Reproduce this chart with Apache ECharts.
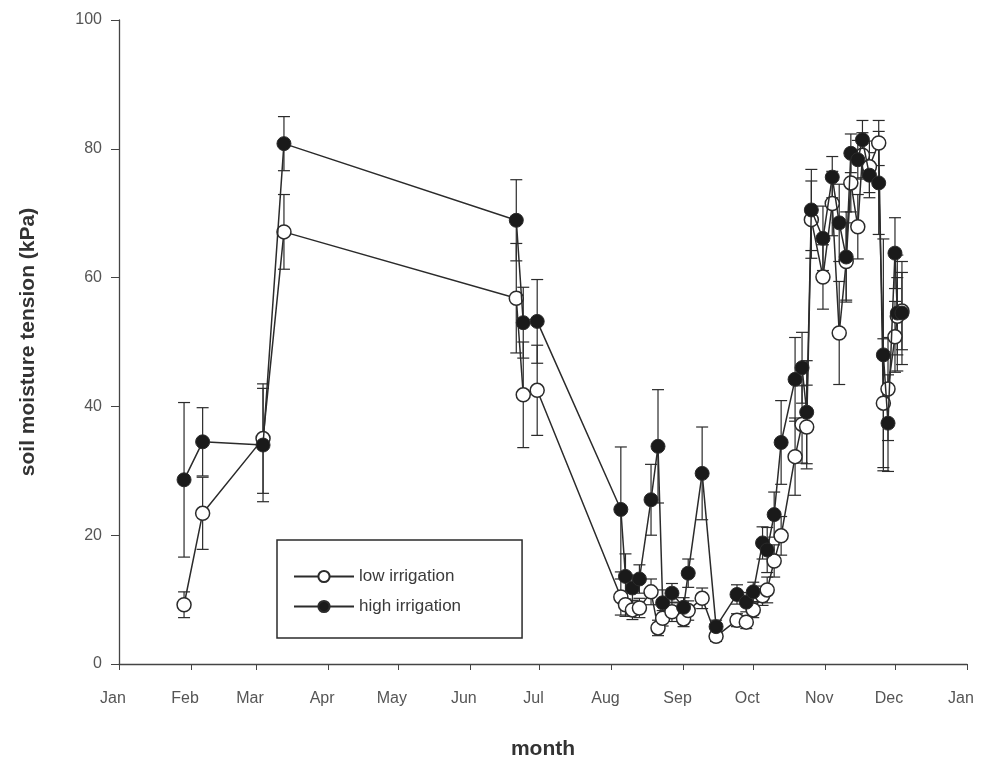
<!DOCTYPE html>
<html>
<head>
<meta charset="utf-8">
<script src="https://cdn.jsdelivr.net/npm/echarts@6/dist/echarts.min.js"></script>
<style>
  html, body { margin: 0; padding: 0; background: #fff; }
  #chart { width: 983px; height: 767px; }
</style>
</head>
<body>
<div id="chart"></div>
<script>
// Month boundaries (day of year) and their labels
const monthStarts = [0, 31, 59, 90, 120, 151, 181, 212, 243, 273, 304, 334, 365];
const monthLabels = ['Jan', 'Feb', 'Mar', 'Apr', 'May', 'Jun', 'Jul', 'Aug', 'Sep', 'Oct', 'Nov', 'Dec', 'Jan'];
const yTicks = [0, 20, 40, 60, 80, 100];

// Sampling dates (day of year)
const sampleDays = [28, 36, 62, 71, 171, 174, 180, 216, 218, 221, 224, 229, 232, 234, 238, 243, 245, 251, 257,
  266, 270, 273, 277, 279, 282, 285, 291, 294, 296, 298, 303, 307, 310, 313, 315, 318, 320, 323, 327, 329, 331, 334, 335, 337];

// Low irrigation: mean and standard error (kPa)
const lowMean = [9.2, 23.4, 35.0, 67.1, 56.8, 41.8, 42.5, 10.4, 9.2, 8.4, 8.7, 11.2, 5.6, 7.1, 8.1, 7.0, 8.3, 10.2, 4.3,
  6.8, 6.5, 8.4, 10.6, 11.5, 16.0, 19.9, 32.2, 37.2, 36.8, 69.0, 60.1, 71.5, 51.4, 62.5, 74.7, 67.9, 79.0, 77.2, 80.9, 40.5, 42.7, 50.8, 54.0, 54.8];
const lowErr = [2.0, 5.6, 8.5, 5.8, 8.5, 8.2, 7.0, 2.8, 1.8, 1.5, 1.5, 2.0, 1.2, 1.2, 1.5, 1.2, 1.5, 1.6, 0.8,
  1.0, 1.0, 1.2, 1.5, 2.0, 2.5, 3.0, 6.0, 6.0, 6.5, 6.0, 5.0, 5.0, 8.0, 6.0, 4.5, 5.0, 3.5, 4.0, 3.5, 10.0, 8.0, 5.5, 6.0, 6.0];

// High irrigation: mean and standard error (kPa)
const highMean = [28.6, 34.5, 34.0, 80.8, 68.9, 53.0, 53.2, 24.0, 13.6, 11.8, 13.2, 25.5, 33.8, 9.5, 11.0, 8.8, 14.1, 29.6, 5.8,
  10.8, 9.6, 11.2, 18.8, 17.7, 23.2, 34.4, 44.2, 46.0, 39.1, 70.5, 66.1, 75.6, 68.5, 63.2, 79.3, 78.3, 81.4, 75.9, 74.7, 48.0, 37.4, 63.8, 54.5, 54.5];
const highErr = [12.0, 5.3, 8.8, 4.2, 6.3, 5.5, 6.5, 9.7, 3.5, 2.0, 2.2, 5.5, 8.8, 2.0, 1.5, 1.5, 2.2, 7.2, 1.0,
  1.5, 1.5, 1.5, 2.5, 3.5, 3.5, 6.5, 6.5, 5.5, 8.0, 6.3, 5.0, 3.2, 6.0, 7.0, 3.0, 3.0, 3.0, 3.5, 8.0, 18.0, 7.5, 5.5, 9.0, 8.0];

const INK = '#2b2b2b';
const FONT = '"Liberation Sans", Arial, sans-serif';

function pairs(means) {
  return sampleDays.map((d, i) => [d, means[i]]);
}
function ranges(means, errs) {
  return sampleDays.map((d, i) => [d, means[i] - errs[i], means[i] + errs[i]]);
}

// Vertical error bar with caps
function renderErrorBar(params, api) {
  const x = api.value(0);
  const lo = api.coord([x, api.value(1)]);
  const hi = api.coord([x, api.value(2)]);
  const half = 6;
  const style = { stroke: INK, lineWidth: 1.2 };
  return {
    type: 'group',
    children: [
      { type: 'line', shape: { x1: lo[0], y1: lo[1], x2: hi[0], y2: hi[1] }, style },
      { type: 'line', shape: { x1: hi[0] - half, y1: hi[1], x2: hi[0] + half, y2: hi[1] }, style },
      { type: 'line', shape: { x1: lo[0] - half, y1: lo[1], x2: lo[0] + half, y2: lo[1] }, style }
    ]
  };
}

const chart = echarts.init(document.getElementById('chart'), null, { renderer: 'canvas' });

chart.setOption({
  animation: false,
  backgroundColor: '#fff',
  grid: { left: 119, right: 16, top: 20, bottom: 103, containLabel: false },
  legend: {
    data: ['low irrigation', 'high irrigation'],
    orient: 'vertical',
    left: 277,
    top: 540,
    padding: [28, 61, 23, 16],
    itemGap: 13,
    itemWidth: 60,
    itemHeight: 14,
    borderColor: INK,
    borderWidth: 1.5,
    borderRadius: 0,
    textStyle: { fontFamily: FONT, fontSize: 17, color: '#3a3a3a' }
  },
  xAxis: {
    type: 'value',
    min: 0,
    max: 365,
    name: 'month',
    nameLocation: 'middle',
    nameGap: 75,
    nameTextStyle: { fontFamily: FONT, fontSize: 21, fontWeight: 'bold', color: '#333' },
    axisLine: { lineStyle: { color: '#444', width: 1.3 } },
    axisTick: { show: true, customValues: monthStarts, length: 6, lineStyle: { color: '#444' } },
    axisLabel: {
      customValues: monthStarts,
      formatter: v => monthLabels[monthStarts.indexOf(v)],
      fontFamily: FONT,
      fontSize: 16,
      color: '#555',
      margin: 27,
      padding: [0, 12, 0, 0]
    },
    splitLine: { show: false }
  },
  yAxis: {
    type: 'value',
    min: 0,
    max: 100,
    interval: 20,
    name: 'soil moisture tension (kPa)',
    nameLocation: 'middle',
    nameGap: 80,
    nameTextStyle: { fontFamily: FONT, fontSize: 21, fontWeight: 'bold', color: '#333' },
    axisLine: { show: true, lineStyle: { color: '#444', width: 1.3 } },
    axisTick: { show: true, customValues: yTicks, length: 8, lineStyle: { color: '#444' } },
    axisLabel: { fontFamily: FONT, fontSize: 16, color: '#555', margin: 17 },
    splitLine: { show: false }
  },
  series: [
    {
      name: 'low irrigation error',
      type: 'custom',
      renderItem: renderErrorBar,
      data: ranges(lowMean, lowErr),
      encode: { x: 0, y: [1, 2] },
      z: 1,
      silent: true
    },
    {
      name: 'high irrigation error',
      type: 'custom',
      renderItem: renderErrorBar,
      data: ranges(highMean, highErr),
      encode: { x: 0, y: [1, 2] },
      z: 1,
      silent: true
    },
    {
      name: 'low irrigation',
      type: 'line',
      data: pairs(lowMean),
      symbol: 'circle',
      symbolSize: 14,
      showAllSymbol: true,
      lineStyle: { color: INK, width: 1.5 },
      itemStyle: { color: '#fff', borderColor: INK, borderWidth: 1.5 },
      z: 2
    },
    {
      name: 'high irrigation',
      type: 'line',
      data: pairs(highMean),
      symbol: 'circle',
      symbolSize: 14,
      showAllSymbol: true,
      lineStyle: { color: INK, width: 1.5 },
      itemStyle: { color: '#1a1a1a', borderColor: INK, borderWidth: 1 },
      z: 3
    }
  ]
});
</script>
</body>
</html>
